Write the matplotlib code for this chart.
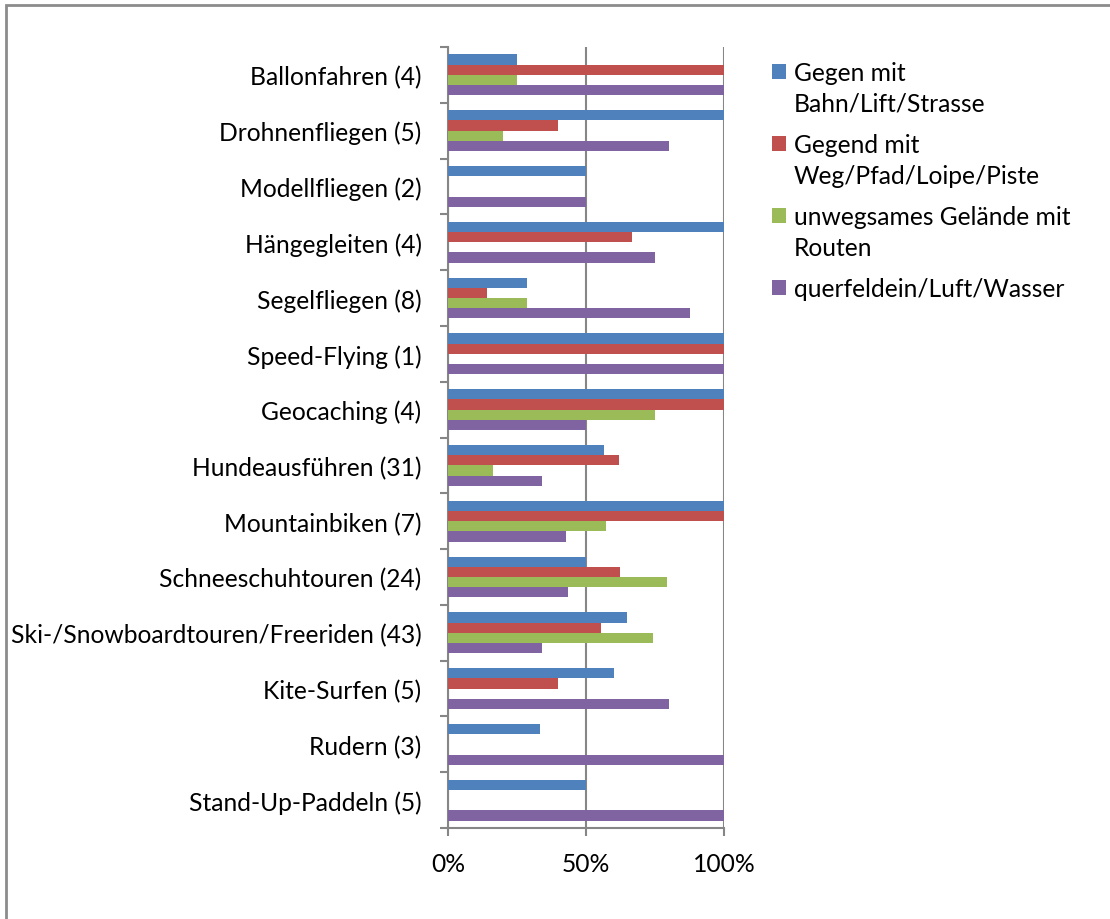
import numpy as np
import matplotlib
matplotlib.use('Agg')
import matplotlib.pyplot as plt
from matplotlib.patches import Rectangle
from matplotlib.legend_handler import HandlerPatch
from matplotlib.ticker import FuncFormatter

plt.rcParams['font.family'] = ['Lato', 'DejaVu Sans']

categories = ['Ballonfahren (4)', 'Drohnenfliegen (5)', 'Modellfliegen (2)', 'Hängegleiten (4)',
              'Segelfliegen (8)', 'Speed-Flying (1)', 'Geocaching (4)', 'Hundeausführen (31)',
              'Mountainbiken (7)', 'Schneeschuhtouren (24)', 'Ski-/Snowboardtouren/Freeriden (43)',
              'Kite-Surfen (5)', 'Rudern (3)', 'Stand-Up-Paddeln (5)']

bahn = [25, 100, 50, 100, 28.6, 100, 100, 56.6, 100, 50, 65, 60, 33.3, 50]
weg = [100, 40, 0, 66.7, 14.3, 100, 100, 62, 100, 62.4, 55.6, 40, 0, 0]
gelaende = [25, 20, 0, 0, 28.6, 0, 75, 16.4, 57.1, 79.2, 74.4, 0, 0, 0]
quer = [100, 80, 50, 75, 87.5, 100, 50, 34.2, 42.8, 43.3, 34, 80, 100, 100]

series_names = ['Gegen mit\nBahn/Lift/Strasse', 'Gegend mit\nWeg/Pfad/Loipe/Piste',
                'unwegsames Gelände mit\nRouten', 'querfeldein/Luft/Wasser']
colors = ['#4F81BD', '#C0504D', '#9BBB59', '#8064A2']

fs = 17.7
fig = plt.figure(figsize=(11.1, 9.2), dpi=100)
ax = fig.add_axes([448/1110, 1-829/920, 276/1110, 781/920])

y = np.arange(len(categories))
h = 0.183
handles = []
for k, (vals, c) in enumerate(zip([bahn, weg, gelaende, quer], colors)):
    b = ax.barh(y - 1.5*h + k*h, vals, height=h, color=c, zorder=3)
    handles.append(b)

ax.set_xlim(0, 100)
ax.set_ylim(len(categories)-0.5, -0.5)
ax.set_xticks([0, 50, 100])
ax.xaxis.set_major_formatter(FuncFormatter(lambda v, p: '%d%%' % v))
ax.set_yticks(np.arange(len(categories)+1) - 0.5, minor=False)
ax.set_yticklabels([])
ax.set_yticks(y, minor=True)
ax.set_yticklabels(categories, minor=True)
ax.tick_params(axis='y', which='minor', length=0, pad=19, labelsize=fs)
ax.tick_params(axis='y', which='major', length=6, width=1.5, color='#868686', direction='out')
ax.tick_params(axis='x', length=6, width=1.5, color='#868686', labelsize=fs, pad=11)
ax.grid(axis='x', color='#868686', linewidth=1.5, zorder=0)
for s in ['top', 'right']:
    ax.spines[s].set_visible(False)
for s in ['left', 'bottom']:
    ax.spines[s].set_color('#868686')
    ax.spines[s].set_linewidth(1.5)

# legend squares sit next to the first text line, like in Excel
linespacing = 1.4
def square_at_first_line(nlines):
    shift = (nlines - 1) * fs * linespacing * 0.5
    def make(legend, orig_handle, xdescent, ydescent, width, height, fontsize):
        return Rectangle((-xdescent, -ydescent + shift), width, height)
    return HandlerPatch(patch_func=make)

hmap = {hd.patches[0]: square_at_first_line(name.count('\n') + 1)
        for hd, name in zip(handles, series_names)}
leg = fig.legend([hd.patches[0] for hd in handles], series_names, handler_map=hmap,
                 loc='upper left', bbox_to_anchor=(772/1110, 1-62/920),
                 frameon=False, fontsize=fs, handlelength=0.58, handleheight=0.58,
                 handletextpad=0.32, labelspacing=0.75, borderaxespad=0, borderpad=0)
for t in leg.get_texts():
    t.set_linespacing(linespacing)

# outer chart border (only top and left edges fall inside the image)
fig.patches.append(Rectangle((6/1110, -0.05), 1.2, 1 - 6/920 + 0.05, transform=fig.transFigure,
                             fill=False, edgecolor='#8c8c8c', linewidth=2, clip_on=False))

fig.savefig('out.png', dpi=100)
